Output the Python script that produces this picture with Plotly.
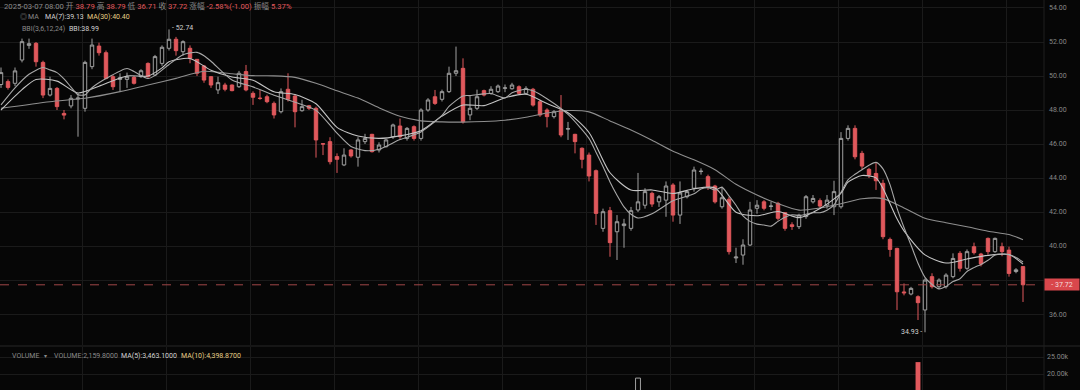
import plotly.graph_objects as go

# ---------------- data ----------------
opens = [49.5, 49.67, 49.57, 50.94, 51.8, 51.92, 50.8, 48.88, 49.27, 47.8,
         48.24, 48.65, 48.1, 50.55, 51.76, 51.37, 49.96, 49.8, 49.8, 49.92,
         49.96, 50.74, 50.06, 50.74, 51.63, 52.16, 51.43, 51.63, 50.98, 50.59,
         49.96, 49.18, 49.47, 49.47, 49.37, 50.26, 48.98, 48.7, 48.78, 48.39,
         47.9, 49.22, 48.82, 47.96, 48.25, 48.1, 46.02, 46.14, 45.26, 44.77,
         45.65, 45.22, 46.14, 46.57, 45.65, 45.84, 46.43, 47.06, 46.33, 47.02,
         46.33, 48.0, 48.78, 48.63, 49.08, 50.16, 50.45, 47.71, 48.1, 49.14,
         48.98, 49.08, 49.28, 49.25, 49.37, 48.98, 49.22, 48.49, 48.0, 47.61,
         48.0, 46.88, 46.57, 45.75, 45.35, 44.43, 41.04, 42.08, 40.84, 41.2,
         41.04, 42.12, 42.4, 43.1, 42.6, 42.7, 43.59, 41.82, 42.9, 43.4,
         44.38, 44.08, 43.53, 42.31, 42.75, 39.3, 39.47, 40.06, 42.22, 42.6,
         42.33, 42.51, 41.96, 41.25, 41.14, 41.73, 42.6, 42.67, 42.4, 42.31,
         42.31, 46.33, 46.92, 45.45, 44.51, 44.27, 43.69, 40.39, 39.86, 37.3,
         37.18, 37.02, 36.24, 38.2, 37.61, 37.61, 38.2, 39.57, 38.69, 39.96,
         39.53, 40.45, 39.67, 39.96, 39.76, 38.5, 38.79]
highs = [50.5, 49.8, 50.5, 52.2, 52.2, 52.0, 50.9, 49.96, 49.35, 48.0,
         48.88, 48.98, 50.9, 52.2, 51.96, 51.5, 50.05, 50.16, 50.2, 50.0,
         50.4, 50.8, 51.24, 51.8, 52.74, 52.3, 52.1, 51.8, 51.0, 50.65,
         50.0, 49.96, 49.6, 49.5, 50.3, 50.65, 49.1, 49.18, 48.9, 48.5,
         49.27, 50.16, 48.9, 48.6, 48.3, 48.2, 46.05, 46.4, 45.45, 45.75,
         45.7, 46.4, 46.6, 46.6, 46.1, 46.3, 47.2, 47.5, 47.0, 47.1,
         48.1, 48.7, 49.18, 49.2, 50.55, 51.73, 51.04, 48.88, 49.2, 49.2,
         49.4, 49.5, 49.5, 49.6, 49.45, 49.4, 49.3, 48.6, 48.1, 48.0,
         48.88, 47.3, 46.6, 45.8, 45.5, 44.5, 42.2, 42.3, 41.82, 41.6,
         42.3, 44.3, 43.4, 43.2, 43.0, 43.8, 43.7, 43.8, 43.3, 44.67,
         44.57, 44.2, 43.6, 43.5, 42.9, 39.9, 40.4, 42.6, 42.7, 42.7,
         42.6, 42.6, 42.0, 41.4, 41.9, 43.0, 43.0, 42.8, 43.0, 43.84,
         46.7, 47.1, 47.1, 45.6, 44.6, 44.9, 43.9, 40.5, 39.9, 37.8,
         37.6, 37.1, 38.1, 38.4, 38.1, 38.4, 39.57, 39.7, 39.8, 40.2,
         39.6, 40.5, 40.5, 40.2, 39.96, 38.7, 38.79]
lows = [49.3, 49.2, 49.4, 50.8, 51.6, 50.55, 48.7, 48.8, 48.0, 47.45,
        48.1, 46.43, 47.9, 50.4, 51.2, 49.8, 49.18, 49.1, 49.3, 49.5,
        49.9, 49.9, 50.0, 50.6, 51.5, 51.2, 51.2, 50.75, 50.0, 49.6,
        49.3, 48.94, 49.1, 49.1, 49.3, 49.1, 48.3, 48.6, 48.4, 47.5,
        47.8, 48.5, 46.98, 47.9, 48.0, 45.2, 45.35, 44.8, 44.3, 44.7,
        45.2, 44.67, 46.0, 45.5, 45.5, 45.8, 46.3, 46.3, 46.2, 46.2,
        46.2, 47.9, 48.3, 48.5, 49.0, 50.0, 47.2, 47.4, 48.0, 48.8,
        48.9, 49.0, 49.05, 49.2, 48.9, 48.9, 48.2, 47.6, 46.98, 47.5,
        46.4, 46.24, 45.45, 44.57, 43.8, 41.24, 40.84, 39.37, 39.18, 39.9,
        40.9, 42.0, 42.2, 42.3, 42.3, 41.72, 41.43, 41.3, 42.8, 43.2,
        44.2, 43.3, 42.5, 42.2, 39.5, 39.0, 38.9, 40.0, 41.9, 42.1,
        42.1, 41.5, 40.9, 40.95, 41.0, 41.6, 42.5, 42.2, 42.2, 41.82,
        42.2, 46.2, 45.1, 44.5, 44.0, 43.3, 40.4, 39.37, 36.24, 37.1,
        37.1, 35.65, 34.93, 37.5, 37.5, 37.5, 38.1, 38.5, 38.6, 39.5,
        38.8, 39.5, 39.6, 39.4, 38.2, 38.4, 36.71]
closes = [50.2, 49.33, 50.3, 52.02, 51.9, 50.84, 48.88, 49.27, 48.2, 47.7,
          48.69, 48.7, 50.8, 51.82, 51.37, 49.86, 49.37, 49.9, 49.96, 49.57,
          50.31, 49.96, 51.14, 51.69, 52.16, 51.49, 52.02, 51.04, 50.16, 49.76,
          49.47, 49.61, 49.22, 49.14, 50.16, 49.18, 48.75, 48.68, 48.49, 47.71,
          49.08, 48.63, 47.9, 48.2, 48.1, 46.24, 46.0, 44.96, 45.1, 45.35,
          45.3, 46.24, 46.33, 45.55, 45.94, 46.24, 47.12, 46.43, 46.92, 46.33,
          48.0, 48.59, 48.39, 49.08, 50.16, 50.31, 47.31, 48.1, 48.78, 48.88,
          49.22, 49.41, 49.3, 49.47, 48.98, 49.27, 48.29, 47.71, 47.61, 47.9,
          46.53, 46.9, 46.14, 45.1, 44.12, 41.92, 42.02, 40.2, 41.43, 41.3,
          42.08, 42.6, 43.2, 42.47, 42.9, 43.53, 41.82, 43.12, 43.2, 44.47,
          44.4, 43.49, 42.6, 42.84, 39.67, 39.35, 40.06, 42.12, 42.4, 42.22,
          42.35, 41.63, 41.04, 41.15, 41.82, 42.9, 42.8, 42.35, 42.7, 43.2,
          46.33, 46.92, 45.25, 44.7, 44.18, 43.84, 40.55, 39.8, 37.31, 37.25,
          37.51, 36.67, 38.0, 37.61, 38.0, 38.29, 39.27, 38.69, 39.67, 39.61,
          38.94, 39.67, 40.45, 39.67, 38.39, 38.6, 37.72]
candle_idx = list(range(len(closes)))

ma7_idx = [0, 2, 4, 6, 7, 8, 9, 10, 11, 12, 13, 15, 18, 19, 21, 22, 24, 26, 27, 28,
           29, 30, 33, 36, 39, 42, 45, 48, 50, 52, 54, 57, 60, 63, 64, 66, 67, 69,
           70, 72, 73, 74, 75, 76, 78, 81, 84, 85, 86, 87, 88, 89, 90, 91, 93, 96,
           99, 100, 101, 102, 103, 104, 105, 106, 107, 108, 109, 110, 111, 112,
           113, 114, 115, 116, 117, 118, 119, 120, 121, 122, 123, 124, 125, 126,
           127, 128, 129, 130, 131, 132, 133, 134, 135, 136, 137, 138, 139, 140,
           141, 142, 143, 144, 145, 146]
ma7_val = [48.3, 49.3, 50.1, 50.5, 50.36, 50.2, 49.83, 49.35, 48.9, 48.89, 49.31,
           49.85, 50.44, 50.26, 49.85, 50.03, 50.68, 51.25, 51.36, 51.39,
           51.19, 50.87, 49.77, 49.36, 48.87, 48.46, 47.98, 46.64, 45.86, 45.61,
           45.69, 46.26, 46.71, 47.68, 48.21, 48.83, 48.85, 48.95,
           48.97, 48.71, 49.02, 49.15, 49.22, 49.13, 48.66, 47.74, 46.33, 45.52,
           44.68, 43.77, 42.99, 42.3, 41.87, 41.65, 41.9, 42.66,
           43.07, 43.35, 43.43, 43.3, 43.45, 42.95, 42.4, 41.77, 41.45, 41.29,
           41.24, 41.17, 41.45, 41.69, 41.84, 41.8, 41.87, 41.96, 41.96, 42.11,
           42.42, 43.16, 43.89, 44.22, 44.49, 44.75, 44.92, 44.54,
           43.61, 42.23, 41.09, 40.06, 38.99, 38.16, 37.74, 37.48, 37.62, 37.91,
           38.08, 38.5, 38.73, 38.92, 39.16, 39.47, 39.53, 39.49, 39.33, 39.06]

bbi_idx = [0, 3, 5, 8, 11, 14, 18, 21, 23, 24, 27, 30, 33, 36, 39, 42, 45, 48, 51,
           54, 57, 60, 63, 66, 69, 72, 75, 78, 81, 84, 87, 90, 93, 96, 99, 102,
           105, 108, 111, 114, 117, 120, 121, 123, 125, 126, 128, 129, 132, 135,
           138, 141, 144, 146]
bbi_val = [48.0, 49.2, 49.8, 49.7, 49.0, 49.4, 50.0, 50.0, 50.48, 50.84, 51.03,
           50.34, 49.94, 49.75, 49.07, 48.91, 48.37, 46.98, 46.47, 46.33, 46.48,
           46.78, 47.64, 48.29, 48.26, 48.72, 48.93, 48.38, 47.84, 46.68, 44.31,
           43.29, 43.3, 43.09, 43.37, 43.42, 41.99, 41.78, 42.03, 41.67, 42.21,
           43.11, 43.76, 44.15, 44.01, 43.38, 41.6, 40.89, 39.48, 39.0, 39.24,
           39.45, 39.5, 38.94]

ma30_idx = [0, 7, 12, 17, 21, 25, 29, 33, 36, 39, 42, 45, 48, 51, 54, 57, 60, 63,
            66, 69, 72, 75, 78, 81, 84, 87, 90, 93, 96, 99, 102, 105, 108, 111,
            114, 117, 120, 123, 126, 129, 132, 135, 138, 141, 144, 146]
ma30_val = [48.1, 48.49, 48.69, 49.08, 49.47, 49.86, 50.28, 50.13, 50.02, 50.01,
            49.92, 49.57, 49.13, 48.7, 48.13, 47.63, 47.36, 47.3, 47.29, 47.32,
            47.4, 47.57, 47.82, 47.97, 47.89, 47.36, 46.82, 46.22, 45.57, 45.07,
            44.49, 43.63, 43.0, 42.49, 42.11, 42.24, 42.49, 42.78, 42.79, 42.24,
            41.63, 41.37, 41.13, 40.87, 40.68, 40.37]

vol_up_idx = [91]
vol_up_val = [18800]
vol_dn_idx = [131, 146]
vol_dn_val = [23500, 2159.8]

price_ticks = [36, 38, 40, 42, 44, 46, 48, 50, 52, 54]
price_tick_text = ["36.00", "", "40.00", "42.00", "44.00", "46.00", "48.00",
                   "50.00", "52.00", "54.00"]
vol_ticks = [20000, 25000]
vol_tick_text = ["20.00k", "25.00k"]
grid_x = [11.71 + 12 * k for k in range(13)]

# ---------------- style ----------------
BG = "#060606"
GRID = "#1a1a1a"
UP = "#a0a0a0"
DN = "#e0585c"
AX = "#868686"
FONT = "Roboto, Noto Sans CJK SC, sans-serif"
W, H, PLOT_W = 1080, 390, 1044


def px(xp):
    return xp / PLOT_W


def py(yp):
    return 1 - yp / H


fig = go.Figure()
fig.add_trace(go.Candlestick(
    x=candle_idx, open=opens, high=highs, low=lows, close=closes,
    increasing=dict(line=dict(color=UP, width=1), fillcolor=BG),
    decreasing=dict(line=dict(color=DN, width=1), fillcolor=DN),
    whiskerwidth=0, xaxis="x", yaxis="y", hoverinfo="skip"))

for xs, ys, col in [(ma30_idx, ma30_val, "#8e8e8e"),
                    (bbi_idx, bbi_val, "#c4c4c4"),
                    (ma7_idx, ma7_val, "#a8a8a8")]:
    fig.add_trace(go.Scatter(x=xs, y=ys, mode="lines",
                             line=dict(color=col, width=1.1, shape="spline", smoothing=0.7),
                             xaxis="x", yaxis="y", hoverinfo="skip"))

fig.add_trace(go.Bar(x=vol_up_idx, y=vol_up_val, width=0.7,
                     marker=dict(color=BG, line=dict(color=UP, width=1)),
                     xaxis="x2", yaxis="y2", hoverinfo="skip"))
fig.add_trace(go.Bar(x=vol_dn_idx, y=vol_dn_val, width=0.7,
                     marker=dict(color=DN, line=dict(width=0)),
                     xaxis="x2", yaxis="y2", hoverinfo="skip"))

xr = [-0.143, 149.0]
fig.update_layout(
    width=W, height=H, margin=dict(l=0, r=W - PLOT_W, t=0, b=0),
    paper_bgcolor=BG, plot_bgcolor=BG, showlegend=False,
    font=dict(family=FONT, color=AX, size=7),
    xaxis=dict(domain=[0, 1], range=xr, rangeslider=dict(visible=False),
               showticklabels=False, tickvals=grid_x, showgrid=True,
               gridcolor=GRID, gridwidth=1, zeroline=False, anchor="y", ticks=""),
    xaxis2=dict(domain=[0, 1], range=xr, showticklabels=False, tickvals=grid_x,
                showgrid=True, gridcolor=GRID, zeroline=False, anchor="y2",
                matches="x", ticks=""),
    yaxis=dict(domain=[45 / H, 1], range=[34.18, 54.47], side="right",
               tickvals=price_ticks, ticktext=price_tick_text, showgrid=True,
               gridcolor=GRID, zeroline=False, ticks="", anchor="x",
               tickfont=dict(size=7, color=AX), ticklabelstandoff=4),
    yaxis2=dict(domain=[0, 43 / H], range=[15294, 27941], side="right",
                tickvals=vol_ticks, ticktext=vol_tick_text, showgrid=True,
                gridcolor=GRID, zeroline=False, ticks="", anchor="x2",
                tickfont=dict(size=7, color=AX), ticklabelstandoff=2),
)

shapes = [
    dict(type="line", xref="paper", yref="y", x0=0, x1=1, y0=closes[-1], y1=closes[-1],
         line=dict(color="#a04648", width=1, dash="dash")),
    dict(type="line", xref="paper", yref="paper", x0=0, x1=W / PLOT_W,
         y0=py(346), y1=py(346), line=dict(color="#262626", width=1)),
    dict(type="line", xref="paper", yref="paper", x0=1, x1=1, y0=0, y1=1,
         line=dict(color="#1e1e1e", width=1)),
]
fig.update_layout(shapes=shapes)

RED = "#e0585c"
GRY = "#8a8a8a"
WHT = "#d2d2d2"
YEL = "#e6cf86"


def span(t, c):
    return f'<span style="color:{c}">{t}</span>'


ann = []


def add_text(x, y, text, size=7, anchor="left"):
    ann.append(dict(xref="paper", yref="paper", x=px(x), y=py(y), text=text,
                    showarrow=False, xanchor=anchor, yanchor="middle",
                    font=dict(size=size, family=FONT, color=GRY)))


line1 = (span("2025-03-07 08:00", GRY) + " " + span("开", GRY) + " " + span("38.79", RED)
         + " " + span("高", GRY) + " " + span("38.79", RED) + " " + span("低", GRY) + " "
         + span("36.71", RED) + " " + span("收", GRY) + " " + span("37.72", RED) + " "
         + span("涨幅", GRY) + " " + span("-2.58%(-1.00)", RED) + " " + span("振幅", GRY)
         + " " + span("5.37%", RED))
add_text(2, 6, line1, size=7.7)
add_text(18, 17.5, span("◎", GRY))
add_text(26, 17.5, span("MA", GRY))
add_text(43, 17.5, span("MA(7):39.13", WHT))
add_text(85, 17.5, span("MA(30):40.40", YEL))
add_text(20, 29, span("BBI(3,6,12,24)", GRY))
add_text(67, 29, span("BBI:38.99", WHT))

add_text(10, 355.5, span("VOLUME", GRY))
add_text(42, 355.5, span("▾", GRY), size=6)
add_text(52, 355.5, span("VOLUME:2,159.8000", GRY))
add_text(119, 355.5, span("MA(5):3,463.1000", WHT))
add_text(179, 355.5, span("MA(10):4,398.8700", YEL))

# high / low markers
ann.append(dict(xref="x", yref="y", x=24, y=highs[24], text="- 52.74", showarrow=False,
                xanchor="left", yanchor="middle", xshift=1, yshift=1,
                font=dict(size=7, family=FONT, color=WHT)))
ann.append(dict(xref="x", yref="y", x=132, y=lows[132], text="34.93 -", showarrow=False,
                xanchor="right", yanchor="middle", xshift=-1,
                font=dict(size=7, family=FONT, color=WHT)))
# last price tag
ann.append(dict(xref="paper", yref="y", x=1, y=closes[-1], text="- 37.72", showarrow=False,
                xanchor="left", yanchor="middle", width=34, height=11, bgcolor="#d9474c",
                borderpad=0, font=dict(size=7, family=FONT, color="#f4dede")))
fig.update_layout(annotations=ann)

fig.write_html(
    "out.html",
    config={"displayModeBar": False, "staticPlot": True},
    post_script="document.body.style.margin='0';"
                "document.body.style.background='#060606';"
                "document.documentElement.style.background='#060606';")
